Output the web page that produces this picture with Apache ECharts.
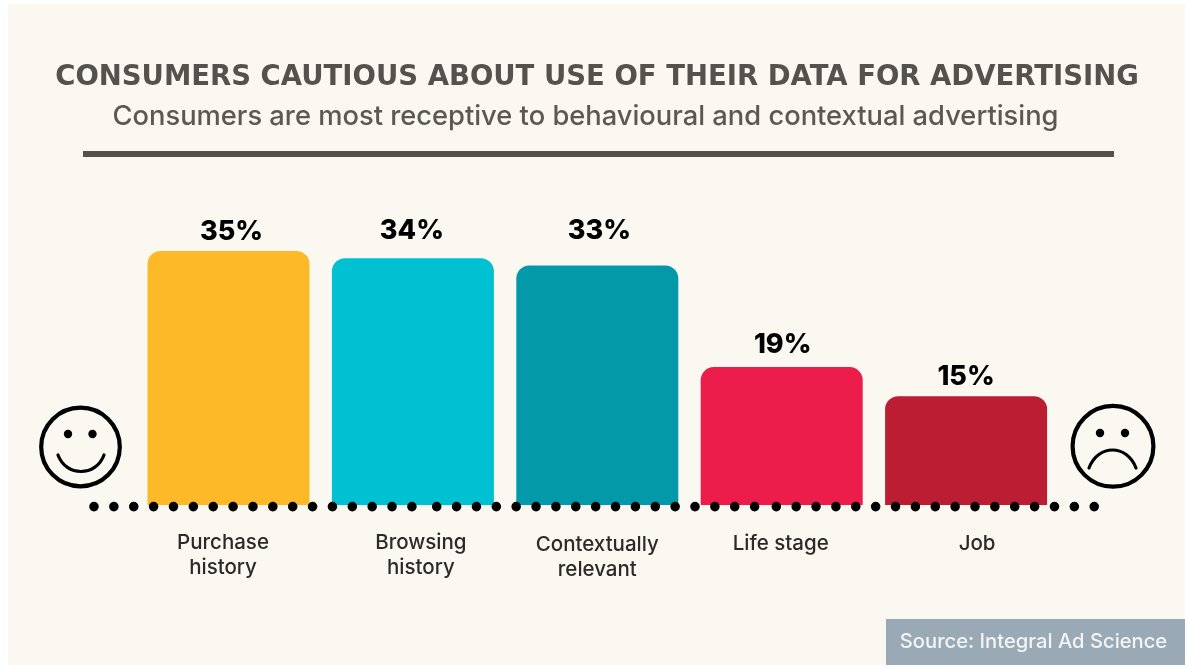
<!DOCTYPE html>
<html><head><meta charset="utf-8">
<style>html,body{margin:0;padding:0;background:#fff}#c{width:1188px;height:668px}</style>
<script src="https://cdn.jsdelivr.net/npm/echarts@6/dist/echarts.min.js"></script>
</head><body><div id="c"></div>
<script>
const titleText = 'CONSUMERS CAUTIOUS ABOUT USE OF THEIR DATA FOR ADVERTISING';
const subtitleText = 'Consumers are most receptive to behavioural and contextual advertising';
const sourceText = 'Source: Integral Ad Science';
const categories = ['Purchase\nhistory', 'Browsing\nhistory', 'Contextually\nrelevant', 'Life stage', 'Job'];
const values = [35, 34, 33, 19, 15];
const barColors = ['#fdb927', '#00c1d2', '#0499a8', '#ec1c4b', '#bb1e33'];
const labelPadding = [[0,11,0,0],[0,0,0,16],[2,0,0,0],[1,2,0,0],[1,0,0,22]];
const valueLabelOffset = [[3,1],[-1,-7],[2,-14],[1,-2],[0,1]];
const dotSegmentStarts = [94, 436.7, 776.3];
const font = 'Inter';
const boldFont = 'DejaVu Sans';
const dark = '#55514d';

const chart = echarts.init(document.getElementById('c'), null, {renderer:'canvas'});
chart.setOption({
  animation:false,
  backgroundColor:'#ffffff',
  title:[
    {text:titleText,left:592,top:56,textAlign:'center',textStyle:{fontFamily:boldFont,fontWeight:700,fontSize:27.5,color:dark,lineHeight:34}},
    {text:subtitleText,left:580.5,top:95,textAlign:'center',textStyle:{fontFamily:font,fontWeight:500,fontSize:27.3,color:'#5c5854',lineHeight:34}}
  ],
  grid:{left:136.3,width:922,top:214.7,height:290.3,containLabel:false},
  xAxis:{type:'category',
    data:categories.map((c,i)=>({value:c,textStyle:{padding:labelPadding[i]}})),
    axisLine:{show:false},axisTick:{show:false},
    axisLabel:{interval:0,margin:25,fontFamily:font,fontWeight:500,fontSize:20.5,lineHeight:25,color:'#2b2a29',verticalAlign:'top'}},
  yAxis:{type:'value',min:0,max:40,show:false,splitLine:{show:false}},
  series:[{type:'bar',barWidth:162,
    data:values.map((v,i)=>({value:v,itemStyle:{color:barColors[i],borderRadius:[13,13,0,0]},label:{offset:valueLabelOffset[i]}})),
    label:{show:true,position:'top',distance:7,formatter:'{c}%',fontFamily:font,fontWeight:800,fontSize:27,color:'#000'}}],
  graphic:[
    {type:'rect',z:-10,shape:{x:8,y:4,width:1177,height:661},style:{fill:'#faf8f1'}},
    {type:'rect',z:5,shape:{x:83,y:151,width:1031,height:6},style:{fill:dark}},
    ...dotSegmentStarts.map(x=>({type:'line',z:50,shape:{x1:x,y1:506.6,x2:x+318.5,y2:506.6},style:{stroke:'#000',lineWidth:9.6,lineCap:'round',lineDash:[0,19.87]}})),
    // happy face
    {type:'circle',shape:{cx:80.5,cy:447,r:39.3},style:{fill:'none',stroke:'#000',lineWidth:4.2}},
    {type:'circle',shape:{cx:68,cy:434,r:4.2},style:{fill:'#000'}},
    {type:'circle',shape:{cx:92.5,cy:434,r:4.2},style:{fill:'#000'}},
    {type:'bezierCurve',shape:{x1:58,y1:455,cpx1:66,cpy1:477,cpx2:96,cpy2:477,x2:104,y2:455},style:{fill:'none',stroke:'#000',lineWidth:3.2,lineCap:'round'}},
    // sad face
    {type:'circle',shape:{cx:1113,cy:446.3,r:40.4},style:{fill:'none',stroke:'#000',lineWidth:4.2}},
    {type:'circle',shape:{cx:1100,cy:433,r:4.2},style:{fill:'#000'}},
    {type:'circle',shape:{cx:1125,cy:433,r:4.2},style:{fill:'#000'}},
    {type:'bezierCurve',shape:{x1:1089,y1:468,cpx1:1098,cpy1:444,cpx2:1127,cpy2:444,x2:1136,y2:468},style:{fill:'none',stroke:'#000',lineWidth:3.2,lineCap:'round'}},
    // source box
    {type:'rect',z:5,shape:{x:886,y:619,width:299,height:46},style:{fill:'#9aa9b6'}},
    {type:'text',z:6,x:1033.5,y:642,style:{text:sourceText,fill:'#f2f4f5',font:'500 20.2px '+font,textAlign:'center',textVerticalAlign:'middle'}}
  ]
});
</script></body></html>
